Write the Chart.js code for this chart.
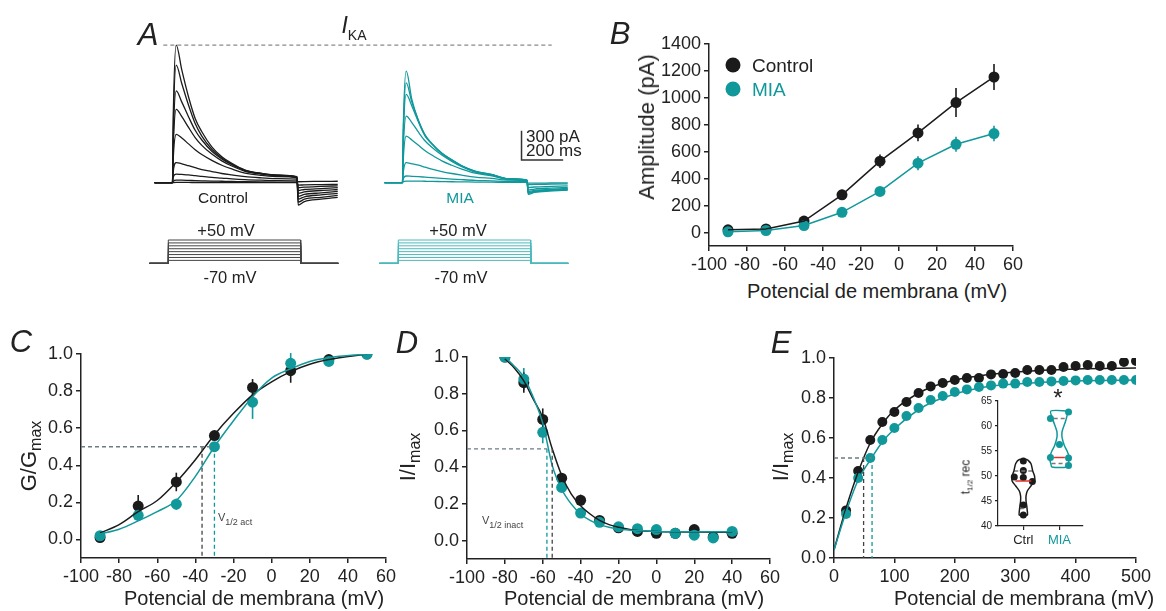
<!DOCTYPE html>
<html>
<head>
<meta charset="utf-8">
<script src="https://cdn.jsdelivr.net/npm/chart.js@4.4.1/dist/chart.umd.min.js"></script>
<style>
  body { margin: 0; background: #fff; }
  #fig { position: relative; width: 1166px; height: 611px; overflow: hidden;
         font-family: 'Liberation Sans', Arial, sans-serif; color: #222; }
  #fig canvas { position: absolute; }
  .t { position: absolute; white-space: nowrap; line-height: 1; transform: translate(-50%, -50%); }
  .l { transform: translate(0, -50%); }
  .rot { transform: translate(-50%, -50%) rotate(-90deg); }
  .pl { font-style: italic; font-size: 31px; }
  .dot { position: absolute; width: 15px; height: 15px; border-radius: 50%; transform: translate(-50%, -50%); }
</style>
</head>
<body>
<div id="fig"></div>
<script>
const black = '#1b1b1b';
const teal = '#11989b';
const tealLight = '#4db9bc';
const dashGrey = '#6b7c82';

// ---- A: example current traces (time in ms, current in pA) ----
const traceTimes = [0, 86, 90, 104, 131, 163, 195, 227, 275, 323, 371, 435, 515, 595, 684, 690, 720, 800, 880];
const ctrlTraces = [
  [0, 0, 700, 1417, 1159, 885, 662, 525, 370, 268, 199, 130, 96, 79, 62, -230, -195, -170, -150],
  [0, 0, 600, 1211, 1020, 800, 610, 480, 345, 255, 190, 128, 95, 78, 60, -200, -170, -150, -130],
  [0, 0, 480, 947, 830, 680, 540, 440, 325, 245, 185, 125, 92, 75, 58, -170, -145, -125, -110],
  [0, 0, 380, 755, 680, 570, 465, 385, 295, 225, 172, 118, 88, 72, 55, -140, -120, -105, -90],
  [0, 0, 260, 497, 460, 400, 340, 290, 230, 180, 142, 100, 76, 62, 50, -110, -95, -80, -70],
  [0, 0, 120, 206, 195, 175, 155, 135, 115, 95, 80, 62, 50, 42, 36, -80, -70, -60, -50],
  [0, 0, 60, 89, 85, 80, 72, 65, 55, 48, 40, 32, 26, 22, 18, -50, -45, -38, -32],
  [0, 0, 15, 27, 26, 24, 22, 20, 17, 15, 13, 10, 8, 7, 6, -25, -22, -20, -17],
  [0, 0, 2, 3, 3, 3, 2, 2, 2, 2, 2, 1, 1, 1, 1, 10, 12, 14, 15],
];
const miaTraces = [
  [0, 0, 580, 1149, 857, 635, 480, 400, 300, 235, 175, 120, 86, 41, 27, -120, -100, -85, -75],
  [0, 0, 520, 1029, 830, 640, 490, 405, 305, 235, 175, 118, 84, 42, 26, -110, -95, -80, -70],
  [0, 0, 460, 909, 790, 625, 485, 400, 300, 232, 172, 115, 82, 40, 25, -100, -88, -75, -65],
  [0, 0, 350, 686, 620, 520, 430, 365, 285, 220, 165, 110, 78, 38, 24, -90, -78, -68, -58],
  [0, 0, 245, 480, 440, 385, 330, 285, 225, 180, 140, 98, 70, 36, 22, -75, -65, -55, -48],
  [0, 0, 110, 206, 195, 180, 160, 140, 115, 95, 78, 58, 44, 28, 18, -50, -44, -38, -32],
  [0, 0, 40, 69, 66, 62, 57, 52, 45, 38, 32, 25, 20, 14, 10, -20, -18, -15, -12],
  [0, 0, 10, 17, 17, 16, 15, 14, 12, 10, 9, 7, 6, 4, 3, -5, -4, -3, -2],
];
const miaOffset = 1105;            // MIA sweep shown after the control sweep (ms)
const protoTimes = [-25, 66, 702, 883];
const protoSteps = [-55, -40, -25, -10, 5, 20, 35, 50];
const holdV = -70;
const peakCurrent = 1418;

// ---- B: I-V relation ----
const ivVolts = [-90, -70, -50, -30, -10, 10, 30, 50];
const ivCtrl = [20, 27, 85, 280, 530, 740, 965, 1155];
const ivCtrlErr = [8, 10, 15, 37, 50, 62, 108, 96];
const ivMia = [5, 15, 52, 150, 305, 515, 655, 735];
const ivMiaErr = [6, 8, 12, 20, 25, 52, 56, 58];

// ---- C: activation ----
const actVolts = [-90, -70, -50, -30, -10, 10, 30, 50];
const actCtrl = [0.01, 0.18, 0.31, 0.56, 0.82, 0.91, 0.97, 1.0];
const actCtrlErr = [0.01, 0.06, 0.05, 0.02, 0.045, 0.065, 0.02, 0];
const actMia = [0.02, 0.13, 0.19, 0.50, 0.74, 0.95, 0.96, 1.0];
const actMiaErr = [0.01, 0.03, 0.03, 0.02, 0.09, 0.055, 0.02, 0];
const actFitVolts = [-90, -80, -70, -60, -50, -40, -30, -20, -10, 0, 10, 20, 30, 50];
const actFitCtrl = [0.035, 0.08, 0.15, 0.21, 0.31, 0.43, 0.565, 0.68, 0.78, 0.85, 0.905, 0.945, 0.97, 1.0];
const actFitMia = [0.03, 0.055, 0.10, 0.15, 0.21, 0.34, 0.50, 0.64, 0.77, 0.87, 0.92, 0.96, 0.98, 1.0];
const actHalf = [-36.5, -30];

// ---- D: inactivation ----
const inVolts = [-80, -70, -60, -50, -40, -30, -20, -10, 0, 10, 20, 30, 40];
const inCtrl = [1.0, 0.86, 0.66, 0.34, 0.22, 0.11, 0.07, 0.05, 0.04, 0.04, 0.06, 0.02, 0.04];
const inCtrlErr = [0, 0.055, 0.06, 0.02, 0.03, 0.015, 0.01, 0.01, 0.01, 0.01, 0.01, 0.01, 0.01];
const inMia = [1.0, 0.88, 0.59, 0.29, 0.15, 0.10, 0.075, 0.065, 0.06, 0.04, 0.03, 0.015, 0.05];
const inMiaErr = [0, 0.06, 0.06, 0.02, 0.02, 0.01, 0.01, 0.01, 0.01, 0.01, 0.01, 0.01, 0.01];
const inFitVolts = [-80, -75, -70, -65, -60, -55, -50, -45, -40, -35, -30, -25, -20, -10, 0, 20, 40];
const inFitCtrl = [0.99, 0.94, 0.87, 0.77, 0.67, 0.50, 0.355, 0.255, 0.19, 0.145, 0.11, 0.087, 0.073, 0.055, 0.05, 0.047, 0.045];
const inFitMia = [1.0, 0.95, 0.89, 0.78, 0.64, 0.41, 0.28, 0.20, 0.145, 0.11, 0.087, 0.073, 0.064, 0.055, 0.05, 0.048, 0.048];
const inHalf = [-55, -57.8];

// ---- E: recovery from inactivation ----
const recTimes = [20, 40, 60, 80, 100, 120, 140, 160, 180, 200, 220, 240, 260, 280, 300, 320, 340, 360, 380, 400, 420, 440, 460, 480, 500];
const recCtrl = [0.238, 0.435, 0.59, 0.68, 0.73, 0.78, 0.825, 0.858, 0.875, 0.89, 0.90, 0.90, 0.918, 0.92, 0.925, 0.94, 0.94, 0.94, 0.955, 0.96, 0.965, 0.96, 0.96, 0.98, 0.985];
const recMia = [0.22, 0.40, 0.50, 0.59, 0.65, 0.71, 0.75, 0.79, 0.81, 0.83, 0.843, 0.855, 0.863, 0.872, 0.872, 0.88, 0.88, 0.883, 0.885, 0.888, 0.89, 0.89, 0.89, 0.89, 0.89];
const recFitTimes = [0, 20, 40, 60, 80, 100, 150, 200, 250, 300, 400, 500];
const recFitCtrl = [0.04, 0.25, 0.43, 0.575, 0.67, 0.74, 0.84, 0.89, 0.915, 0.93, 0.945, 0.95];
const recFitMia = [0.04, 0.23, 0.39, 0.49, 0.58, 0.645, 0.76, 0.82, 0.855, 0.87, 0.885, 0.89];
const recHalf = [49, 63];

// ---- E inset: t1/2 rec violins ----
const groups = ['Ctrl', 'MIA'];
const ctrlHalfLife = [53, 51.1, 49.8, 49.7, 48.9, 44.2, 42.2];
const ctrlJitter = [0, 0, -0.25, 0, 0.25, 0, 0];
const miaHalfLife = [62.8, 61.5, 56.3, 53.7, 53.6, 52.1];
const miaJitter = [0.25, -0.25, 0, -0.25, 0.25, 0.25];
const ctrlQuart = [43.5, 49, 51];
const miaQuart = [52.5, 53.7, 61.5];
const ctrlViolinLevels = [53.3, 52.5, 51, 50, 49, 48, 47, 46, 45, 44, 43, 42.2];
const ctrlViolinWidth = [0.11, 0.21, 0.26, 0.31, 0.31, 0.21, 0.11, 0.075, 0.075, 0.095, 0.11, 0.11];
const miaViolinLevels = [63, 61, 59, 58, 57, 56, 55, 54, 53, 52.5, 51.8];
const miaViolinWidth = [0.24, 0.17, 0.075, 0.066, 0.094, 0.14, 0.21, 0.26, 0.26, 0.24, 0.21];

// ------------------------------------------------------------------
Chart.defaults.font.family = "'Liberation Sans', Arial, sans-serif";
Chart.defaults.color = '#222';

const fig = document.getElementById('fig');
const axisColor = '#222';
const pts = (xs, ys, dx = 0) => xs.map((x, i) => ({ x: x + dx, y: ys[i] }));

const errorBars = {
  id: 'errorBars',
  beforeDatasetsDraw(chart) {
    const ctx = chart.ctx;
    const xs = chart.scales.x, ys = chart.scales.y;
    chart.data.datasets.forEach(ds => {
      if (!ds.err) return;
      ctx.save();
      ctx.strokeStyle = ds.pointBackgroundColor;
      ctx.lineWidth = 1.6;
      ds.data.forEach((p, i) => {
        const e = ds.err[i];
        if (!e) return;
        const px = xs.getPixelForValue(p.x);
        ctx.beginPath();
        ctx.moveTo(px, ys.getPixelForValue(p.y - e));
        ctx.lineTo(px, ys.getPixelForValue(p.y + e));
        ctx.stroke();
      });
      ctx.restore();
    });
  }
};

// canvas sized so that the plot area lands exactly on `area`
function makeChart(area, m, datasets, scales) {
  const c = document.createElement('canvas');
  const w = area.r - area.l + m.l + m.r, h = area.b - area.t + m.t + m.b;
  c.width = w; c.height = h;
  c.style.left = (area.l - m.l) + 'px';
  c.style.top = (area.t - m.t) + 'px';
  fig.appendChild(c);
  if (scales.y && scales.y.display !== false) scales.y.afterFit = s => { s.width = m.l; };
  if (scales.x && scales.x.display !== false) scales.x.afterFit = s => { s.height = m.b; };
  return new Chart(c, {
    type: 'line',
    data: { datasets },
    options: {
      responsive: false,
      animation: false,
      devicePixelRatio: 1,
      layout: { padding: { top: m.t, right: m.r, left: 0, bottom: 0 } },
      plugins: { legend: { display: false }, tooltip: { enabled: false } },
      scales,
    },
    plugins: [errorBars],
  });
}

function axis(min, max, ticks, fmt, size = 18, tickLen = 5, lw = 1.5) {
  return {
    type: 'linear', min, max,
    afterBuildTicks: s => { s.ticks = ticks.map(v => ({ value: v })); },
    grid: { drawOnChartArea: false, drawTicks: true, tickLength: tickLen, color: axisColor, lineWidth: lw },
    border: { color: axisColor, width: lw },
    ticks: { font: { size }, padding: 3, maxRotation: 0, autoSkip: false, color: '#222', callback: v => fmt(v) },
  };
}

const line = (data, color, width = 1.5, extra = {}) =>
  Object.assign({ data, borderColor: color, borderWidth: width, pointRadius: 0, fill: false }, extra);
const dots = (data, color, r, err) =>
  ({ data, showLine: false, pointRadius: r, pointBackgroundColor: color, pointBorderColor: color, pointBorderWidth: 0, err });
const dashed = (data, color) => line(data, color, 1.3, { borderDash: [4, 3] });

const int = v => String(v);
const one = v => v.toFixed(1);

// ---- A ----
const aDatasets = [];
const protoData = v => [
  { x: protoTimes[0], y: holdV }, { x: protoTimes[1], y: holdV }, { x: protoTimes[1], y: v },
  { x: protoTimes[2], y: v }, { x: protoTimes[2], y: holdV }, { x: protoTimes[3], y: holdV },
];
protoSteps.forEach(v => {
  aDatasets.push(line(protoData(v), '#444', 1, { yAxisID: 'yV' }));
  aDatasets.push(line(protoData(v).map(p => ({ x: p.x + miaOffset, y: p.y })), tealLight, 1, { yAxisID: 'yV' }));
});
ctrlTraces.forEach(tr => aDatasets.push(line(pts(traceTimes, tr), black, 1.3, { cubicInterpolationMode: 'monotone' })));
miaTraces.forEach(tr => aDatasets.push(line(pts(traceTimes, tr, miaOffset), teal, 1.3, { cubicInterpolationMode: 'monotone' })));
aDatasets.push(dashed([{ x: 42, y: peakCurrent }, { x: 1908, y: peakCurrent }], '#8a8a8a'));
// scale bar: 300 pA / 200 ms
aDatasets.push(line([{ x: 1763, y: 534 }, { x: 1763, y: 234 }, { x: 1963, y: 234 }], '#333', 1.5));

makeChart({ l: 140, t: 20, r: 600, b: 290 }, { l: 0, t: 0, r: 0, b: 0 }, aDatasets, {
  x: { type: 'linear', min: -70, max: 2140, display: false },
  y: { type: 'linear', min: -1105, max: 1676, display: false },
  yV: { type: 'linear', min: -207.5, max: 1183, display: false },
});

// ---- B ----
makeChart({ l: 709, t: 44, r: 1013, b: 246 }, { l: 60, t: 14, r: 22, b: 32 }, [
  line(pts(ivVolts, ivMia), teal, 1.5),
  line(pts(ivVolts, ivCtrl), black, 1.5),
  dots(pts(ivVolts, ivMia), teal, 5.5, ivMiaErr),
  dots(pts(ivVolts, ivCtrl), black, 5.5, ivCtrlErr),
], {
  x: axis(-100, 60, [-100, -80, -60, -40, -20, 0, 20, 40, 60], int),
  y: axis(-100, 1400, [0, 200, 400, 600, 800, 1000, 1200, 1400], int),
});

// ---- C ----
makeChart({ l: 81, t: 354, r: 386, b: 558 }, { l: 50, t: 14, r: 22, b: 32 }, [
  dashed([{ x: -100, y: 0.5 }, { x: actHalf[1], y: 0.5 }], dashGrey),
  dashed([{ x: actHalf[0], y: 0.5 }, { x: actHalf[0], y: -0.1 }], '#444'),
  dashed([{ x: actHalf[1], y: 0.5 }, { x: actHalf[1], y: -0.1 }], teal),
  line(pts(actFitVolts, actFitMia), teal, 1.5, { cubicInterpolationMode: 'monotone' }),
  line(pts(actFitVolts, actFitCtrl), black, 1.5, { cubicInterpolationMode: 'monotone' }),
  dots(pts(actVolts, actMia), teal, 5.5, actMiaErr),
  dots(pts(actVolts, actCtrl), black, 5.5, actCtrlErr),
], {
  x: axis(-100, 60, [-100, -80, -60, -40, -20, 0, 20, 40, 60], int),
  y: axis(-0.1, 1.0, [0, 0.2, 0.4, 0.6, 0.8, 1.0], one),
});

// ---- D ----
makeChart({ l: 467, t: 357, r: 770, b: 559 }, { l: 50, t: 14, r: 22, b: 32 }, [
  dashed([{ x: -100, y: 0.5 }, { x: inHalf[1], y: 0.5 }], dashGrey),
  dashed([{ x: inHalf[0], y: 0.5 }, { x: inHalf[0], y: -0.1 }], '#444'),
  dashed([{ x: inHalf[1], y: 0.5 }, { x: inHalf[1], y: -0.1 }], teal),
  line(pts(inFitVolts, inFitMia), teal, 1.5, { cubicInterpolationMode: 'monotone' }),
  line(pts(inFitVolts, inFitCtrl), black, 1.5, { cubicInterpolationMode: 'monotone' }),
  dots(pts(inVolts, inMia), teal, 5.5, inMiaErr),
  dots(pts(inVolts, inCtrl), black, 5.5, inCtrlErr),
], {
  x: axis(-100, 60, [-100, -80, -60, -40, -20, 0, 20, 40, 60], int),
  y: axis(-0.1, 1.0, [0, 0.2, 0.4, 0.6, 0.8, 1.0], one),
});

// ---- E ----
makeChart({ l: 834, t: 358, r: 1136, b: 558 }, { l: 50, t: 14, r: 24, b: 32 }, [
  dashed([{ x: 0, y: 0.5 }, { x: recHalf[1], y: 0.5 }], dashGrey),
  dashed([{ x: recHalf[0], y: 0.5 }, { x: recHalf[0], y: 0 }], '#444'),
  dashed([{ x: recHalf[1], y: 0.5 }, { x: recHalf[1], y: 0 }], teal),
  line(pts(recFitTimes, recFitMia), teal, 1.5, { cubicInterpolationMode: 'monotone' }),
  line(pts(recFitTimes, recFitCtrl), black, 1.5, { cubicInterpolationMode: 'monotone' }),
  dots(pts(recTimes, recMia), teal, 5),
  dots(pts(recTimes, recCtrl), black, 5),
], {
  x: axis(0, 500, [0, 100, 200, 300, 400, 500], int),
  y: axis(0, 1.0, [0, 0.2, 0.4, 0.6, 0.8, 1.0], one),
});

// ---- E inset ----
const violin = (c, levels, widths) => {
  const right = levels.map((y, i) => ({ x: c + widths[i], y }));
  const left = levels.map((y, i) => ({ x: c - widths[i], y })).reverse();
  return right.concat(left, [right[0]]);
};
const hline = (c, y, w) => [{ x: c - w, y }, { x: c + w, y }];
makeChart({ l: 998, t: 400, r: 1083, b: 526 }, { l: 28, t: 8, r: 8, b: 24 }, [
  line(violin(1, ctrlViolinLevels, ctrlViolinWidth), black, 1.5, { tension: 0.25 }),
  line(violin(2, miaViolinLevels, miaViolinWidth), teal, 1.5, { tension: 0.25 }),
  dashed(hline(1, ctrlQuart[0], 0.1), '#777'),
  dashed(hline(1, ctrlQuart[2], 0.25), '#777'),
  line(hline(1, ctrlQuart[1], 0.22), '#e0302a', 1.5),
  dashed(hline(2, miaQuart[0], 0.22), '#777'),
  dashed(hline(2, miaQuart[2], 0.16), '#777'),
  line(hline(2, miaQuart[1], 0.15), '#e0302a', 1.5),
  dots(ctrlHalfLife.map((y, i) => ({ x: 1 + ctrlJitter[i], y })), black, 3.5),
  dots(miaHalfLife.map((y, i) => ({ x: 2 + miaJitter[i], y })), teal, 3.5),
], {
  x: Object.assign(axis(0.3, 2.65, [1, 2], v => groups[v - 1], 13, 4, 1.2),
    { ticks: { font: { size: 13 }, padding: 3, autoSkip: false, maxRotation: 0,
               color: c => (c.tick && c.tick.value === 2 ? teal : '#222'),
               callback: v => groups[v - 1] } }),
  y: axis(40, 65, [40, 45, 50, 55, 60, 65], int, 10, 3, 1.2),
});

// ---- text ----
function txt(html, x, y, cls = '', style = '') {
  const d = document.createElement('div');
  d.className = 't ' + cls;
  d.innerHTML = html;
  d.style.cssText = `left:${x}px;top:${y}px;` + style;
  fig.appendChild(d);
}
function dot(x, y, color) {
  const d = document.createElement('div');
  d.className = 'dot';
  d.style.cssText = `left:${x}px;top:${y}px;background:${color}`;
  fig.appendChild(d);
}
const sub = (s, size, off) => `<span style="font-size:${size}px;vertical-align:${off}px">${s}</span>`;

txt('A', 148, 34, 'pl');
txt('<i>I</i>' + sub('KA', 14, -7), 354, 28, '', 'font-size:23px');
txt('Control', 223, 198, '', 'font-size:15.5px');
txt('MIA', 460, 198, '', 'font-size:15.5px;color:' + teal);
txt('+50 mV', 226, 230, '', 'font-size:16.5px');
txt('-70 mV', 230, 277, '', 'font-size:16.5px');
txt('+50 mV', 458, 230, '', 'font-size:16.5px');
txt('-70 mV', 461, 277, '', 'font-size:16.5px');
txt('300 pA', 526, 136, 'l', 'font-size:17px');
txt('200 ms', 526, 150, 'l', 'font-size:17px');

txt('B', 620, 33, 'pl');
dot(733, 65, black); dot(733, 89, teal);
txt('Control', 752, 65, 'l', 'font-size:19px');
txt('MIA', 752, 89, 'l', 'font-size:19px;color:' + teal);
txt('Amplitude (pA)', 647, 127, 'rot', 'font-size:22px');
txt('Potencial de membrana (mV)', 877, 291, '', 'font-size:20px');

txt('C', 21, 341, 'pl');
txt('G/G' + sub('max', 16, -5), 31, 456, 'rot', 'font-size:22px');
txt('Potencial de membrana (mV)', 254, 598, '', 'font-size:20px');
txt('V' + sub('1/2 act', 9, -4), 218, 519, 'l', 'font-size:11px;color:#444');

txt('D', 407, 342, 'pl');
txt('I/I' + sub('max', 16, -5), 410, 457, 'rot', 'font-size:22px');
txt('Potencial de membrana (mV)', 634, 598, '', 'font-size:20px');
txt('V' + sub('1/2 inact', 9, -4), 482, 522, 'l', 'font-size:11px;color:#444');

txt('E', 781, 342, 'pl');
txt('I/I' + sub('max', 16, -5), 783, 457, 'rot', 'font-size:22px');
txt('Potencial de membrana (mV)', 1024, 598, '', 'font-size:20px');
txt('t' + sub('1/2', 8, -3) + ' rec', 967, 477, 'rot', 'font-size:12px');
txt('*', 1058, 398, '', 'font-size:24px');
</script>
</body>
</html>
